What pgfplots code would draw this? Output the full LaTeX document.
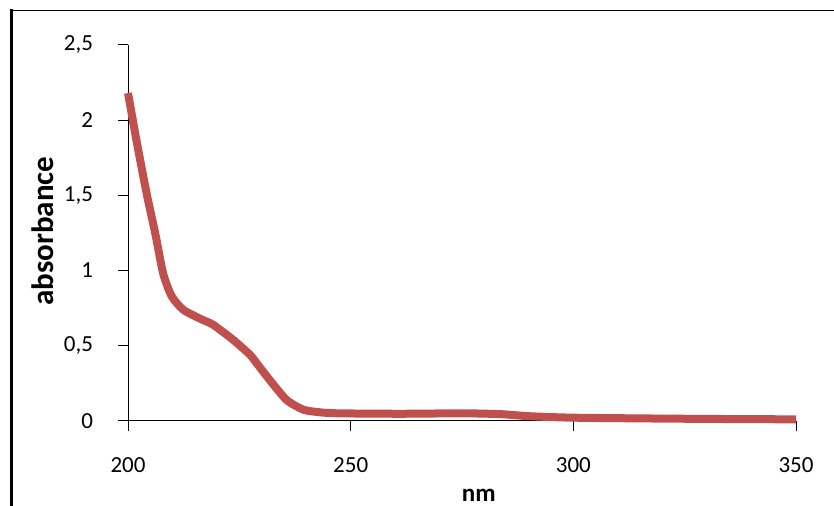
\documentclass[border=0pt]{standalone}
\usepackage{fontspec}
\setmainfont{Carlito}
\usepackage{pgfplots}
\pgfplotsset{compat=1.18}
\definecolor{curvered}{RGB}{192,80,77}
\begin{document}
\begin{tikzpicture}
\useasboundingbox (0,0) rectangle (417pt,253pt);
\draw[line width=1.5pt] (5.5pt,0) -- (5.5pt,248.5pt);
\draw[line width=0.6pt] (4.75pt,247.75pt) -- (417pt,247.75pt);
\begin{axis}[
  at={(64pt,42.5pt)}, anchor=south west,
  scale only axis, width=334pt, height=188pt,
  xmin=200, xmax=350, ymin=0, ymax=2.5,
  axis x line=bottom, axis y line=left,
  axis line style={-, line width=0.5pt},
  xtick={200,250,300,350},
  ytick={0,0.5,1,1.5,2,2.5},
  yticklabels={0,{0,5},1,{1,5},2,{2,5}},
  tick align=outside, major tick length=5pt,
  tick style={line width=0.5pt, black},
  /pgf/number format/assume math mode=true,
  tick label style={font=\fontsize{11.5}{13}\selectfont},
  yticklabel style={xshift=-9pt},
  xticklabel style={yshift=-10pt},
  xlabel={nm}, ylabel={absorbance},
  xlabel style={at={(axis description cs:0.525,0)}, anchor=center, yshift=-37pt, font=\fontsize{12.5}{14}\bfseries},
  ylabel style={at={(axis description cs:-0.1272,0.505)}, anchor=center, font=\fontsize{15.5}{17}\bfseries},
  clip=false,
]
\addplot[curvered, line width=4pt, smooth, tension=0.4] coordinates {
(200,2.18) (202,1.85) (204.2,1.51) (206.1,1.25) (207.9,0.98) (209.8,0.83)
(212.4,0.74) (216.2,0.68) (219.1,0.64) (223.6,0.54) (227.4,0.44) (229,0.38)
(231.9,0.27) (235.6,0.14) (239.4,0.075) (243,0.058) (246,0.052) (250,0.05)
(261,0.048) (270,0.05) (278,0.05) (284,0.045) (290,0.032) (300,0.022)
(320,0.016) (335,0.013) (350,0.011)
};
\end{axis}
\end{tikzpicture}
\end{document}
